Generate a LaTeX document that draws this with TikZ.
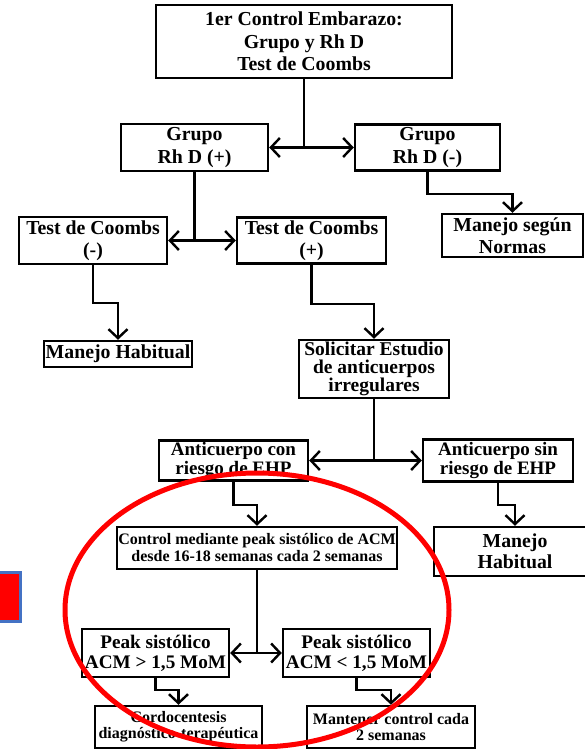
\documentclass[tikz,border=0pt]{standalone}
\usepackage{fontspec}
\setmainfont{Liberation Serif}
\usepackage{tikz}
\usetikzlibrary{arrows.meta}

\begin{document}
\begin{tikzpicture}[x=1pt,y=-1pt,
	caja/.style={draw, line width=2.4pt, align=center, inner sep=0pt, font=\fontsize{19.8}{22.5}\selectfont\bfseries},
	flecha/.style={line width=2.4pt, -{Straight Barb[length=9pt,width=19pt,line width=2.4pt]}},
	linea/.style={line width=2.4pt}]
					\useasboundingbox (0,0) rectangle (584,749);
					\node[caja, minimum width=296, minimum height=73] (inicio) at (304,41.5) {1er Control Embarazo:\\Grupo y Rh D\\Test de Coombs};
					\node[caja, minimum width=147, minimum height=47] (grupoPos) at (194.5,147.5) {Grupo\\Rh D (+)};
					\node[caja, minimum width=145, minimum height=46] (grupoNeg) at (427.5,147.5) {Grupo\\Rh D (-)};
					\node[caja, minimum width=141, minimum height=43] (normas) at (512.5,235.5) {Manejo según\\Normas};
					\node[caja, minimum width=148, minimum height=47] (coombsNeg) at (93,240.5) {Test de Coombs\\(-)};
					\node[caja, minimum width=149, minimum height=46] (coombsPos) at (311.5,240.5) {Test de Coombs\\(+)};
					\node[caja, minimum width=148, minimum height=26] (habitual) at (118,354) {Manejo Habitual};
					\node[caja, minimum width=150, minimum height=58, font=\fontsize{19.5}{18}\selectfont\bfseries] (solicitar) at (374,369) {Solicitar Estudio\\de anticuerpos\\irregulares};
					\node[caja, minimum width=149, minimum height=40, font=\fontsize{19}{16}\selectfont\bfseries] (conRiesgo) at (233.5,460.5) {Anticuerpo con\\riesgo de EHP};
					\node[caja, minimum width=150, minimum height=42, font=\fontsize{19}{16}\selectfont\bfseries] (sinRiesgo) at (498,460.5) {Anticuerpo sin\\riesgo de EHP};
					\node[caja, minimum width=280, minimum height=42, font=\fontsize{16}{17}\selectfont\bfseries] (control) at (257,548) {Control mediante peak sistólico de ACM\\desde 16-18 semanas cada 2 semanas};
					\node[caja, minimum width=162, minimum height=49, font=\fontsize{19.8}{21}\selectfont\bfseries] (habitualDos) at (515,551.5) {Manejo\\Habitual};
					\node[caja, minimum width=147, minimum height=48, font=\fontsize{19.2}{20}\selectfont\bfseries] (peakMayor) at (155.5,653) {Peak sistólico\\ACM > 1,5 MoM};
					\node[caja, minimum width=147, minimum height=48, font=\fontsize{19.2}{20}\selectfont\bfseries] (peakMenor) at (356.5,653) {Peak sistólico\\ACM < 1,5 MoM};
					\node[caja, minimum width=167, minimum height=42, font=\fontsize{16}{16}\selectfont\bfseries] (cordo) at (178.5,727) {Cordocentesis\\diagnóstico-terapéutica};
					\node[caja, minimum width=168, minimum height=42, font=\fontsize{16}{16}\selectfont\bfseries] (mantener) at (391,727) {Mantener control cada\\2 semanas};
					\coordinate (nudoUno) at (inicio.south |- grupoPos.east);
					\coordinate (nudoDos) at (grupoPos.south |- coombsNeg.east);
					\coordinate (nudoTres) at (solicitar.south |- conRiesgo.east);
					\coordinate (nudoCuatro) at (control.south |- peakMayor.east);
					\draw[linea] (inicio.south) -- (nudoUno);
					\draw[flecha] (nudoUno) -- (grupoPos.east);
					\draw[flecha] (nudoUno) -- (grupoNeg.west);
					\draw[flecha] (grupoNeg.south) -- ++(0,22) -| (normas.north);
					\draw[linea] (grupoPos.south) -- (nudoDos);
					\draw[flecha] (nudoDos) -- (coombsNeg.east);
					\draw[flecha] (nudoDos) -- (coombsPos.west);
					\draw[flecha] (coombsNeg.south) -- ++(0,38) -| (habitual.north);
					\draw[flecha] (coombsPos.south) -- ++(0,39) -| (solicitar.north);
					\draw[linea] (solicitar.south) -- (nudoTres);
					\draw[flecha] (nudoTres) -- (conRiesgo.east);
					\draw[flecha] (nudoTres) -- (sinRiesgo.west);
					\draw[flecha] (conRiesgo.south) -- ++(0,23) -| (control.north);
					\draw[flecha] (sinRiesgo.south) -- ++(0,22) -| (habitualDos.north);
					\draw[linea] (control.south) -- (nudoCuatro);
					\draw[flecha] (nudoCuatro) -- (peakMayor.east);
					\draw[flecha] (nudoCuatro) -- (peakMenor.west);
					\draw[flecha] (peakMayor.south) -- ++(0,12) -| (cordo.north);
					\draw[flecha] (peakMenor.south) -- ++(0,12) -| (mantener.north);
					\draw[red, line width=5pt] (257,610) ellipse (192 and 137);
					\draw[fill=red, draw={rgb,255:red,68;green,114;blue,196}, line width=3pt] (-5,572.5) rectangle (20.5,621.5);
				\end{tikzpicture}
\end{document}
